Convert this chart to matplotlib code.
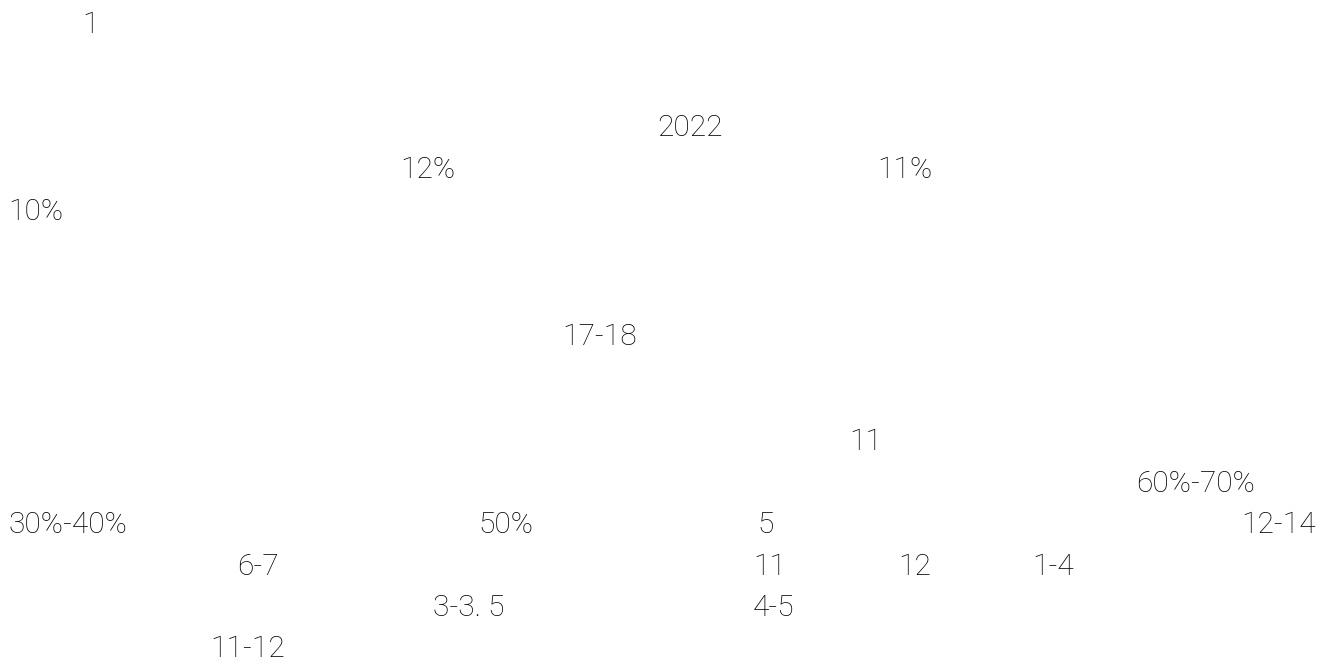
import matplotlib
matplotlib.use("Agg")
import matplotlib.pyplot as plt

# texte visible dans l'image (seuls les chiffres sont rendus)
labels = ["1", "2022", "12%", "11%", "10%", "17-18", "11", "60%-70%",
          "30%-40%", "50%", "5", "12-14", "6-7", "11", "12", "1-4",
          "3-3. 5", "4-5", "11-12"]
# bord gauche et ligne de base, en pixels
x_px = [82, 657, 400, 877, 8, 562, 849, 1136,
        8, 478, 757, 1241, 237, 753, 898, 1032,
        433, 753, 210]
y_px = [33, 136, 178, 178, 220, 345, 450, 492,
        533, 533, 533, 533, 575, 575, 575, 575,
        616, 616, 657]

W, H = 1336, 666
plt.rcParams['font.family'] = ['Roboto', 'Noto Sans CJK SC', 'DejaVu Sans']

fig = plt.figure(figsize=(W / 100, H / 100), dpi=100)
fig.patch.set_facecolor('white')

for txt, x, y in zip(labels, x_px, y_px):
    fig.text(x / W, 1 - y / H, txt, ha='left', va='baseline',
             fontsize=21.5, fontweight='light', color='#000000')

fig.savefig('out.png', dpi=100, facecolor='white')
